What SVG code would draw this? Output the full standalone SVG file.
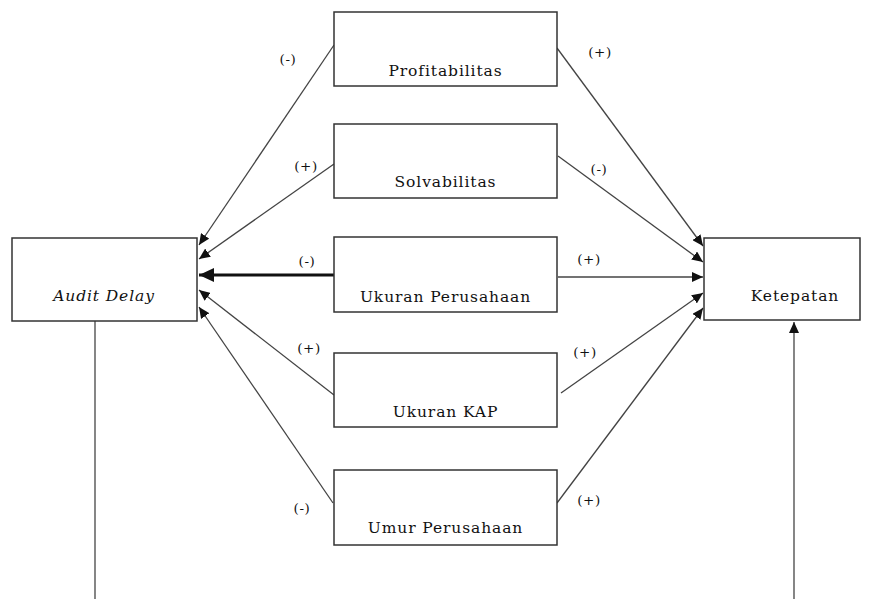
<svg xmlns="http://www.w3.org/2000/svg" width="875" height="599" viewBox="0 0 875 599">
<style>
.box{fill:#fff;stroke:#333;stroke-width:1.5}
.t{font-family:"DejaVu Serif","Liberation Serif",serif;font-size:15.5px;letter-spacing:0.9px;fill:#111;text-anchor:middle}
.lbl{font-family:"DejaVu Serif","Liberation Serif",serif;font-size:13.5px;letter-spacing:0.6px;fill:#111;text-anchor:middle}
.ln{stroke:#444;stroke-width:1.3;fill:none}
</style>
<defs>
<marker id="ah" markerUnits="userSpaceOnUse" markerWidth="12" markerHeight="10" refX="11" refY="5" orient="auto"><path d="M0,0 L11,5 L0,10 Z" fill="#111"/></marker>
<marker id="ahb" markerUnits="userSpaceOnUse" markerWidth="16" markerHeight="14" refX="15" refY="7" orient="auto"><path d="M0,0 L15,7 L0,14 Z" fill="#111"/></marker>
</defs>
<g id="connectors">
<line class="ln" x1="334" y1="45" x2="199" y2="245" marker-end="url(#ah)"/>
<line class="ln" x1="334" y1="164" x2="199" y2="259" marker-end="url(#ah)"/>
<line x1="334" y1="275" x2="199" y2="275" stroke="#111" stroke-width="3" marker-end="url(#ahb)"/>
<line class="ln" x1="334" y1="395" x2="199" y2="290" marker-end="url(#ah)"/>
<line class="ln" x1="333" y1="503" x2="199" y2="307" marker-end="url(#ah)"/>
<line class="ln" x1="557" y1="48" x2="703" y2="246" marker-end="url(#ah)"/>
<line class="ln" x1="558" y1="156" x2="703" y2="262" marker-end="url(#ah)"/>
<line class="ln" x1="558" y1="277" x2="703" y2="277" marker-end="url(#ah)"/>
<line class="ln" x1="561" y1="393" x2="703" y2="293" marker-end="url(#ah)"/>
<line class="ln" x1="557" y1="503" x2="703" y2="308" marker-end="url(#ah)"/>
<line class="ln" x1="95" y1="321" x2="95" y2="599"/>
<line class="ln" x1="794" y1="599" x2="794" y2="322" marker-end="url(#ah)"/>
<text class="lbl" x="288" y="64">(-)</text>
<text class="lbl" x="306" y="171">(+)</text>
<text class="lbl" x="307" y="266">(-)</text>
<text class="lbl" x="309" y="353">(+)</text>
<text class="lbl" x="302" y="513">(-)</text>
<text class="lbl" x="600" y="57">(+)</text>
<text class="lbl" x="599" y="174">(-)</text>
<text class="lbl" x="589" y="264">(+)</text>
<text class="lbl" x="585" y="357">(+)</text>
<text class="lbl" x="589" y="505">(+)</text>
</g>
<g id="audit-delay">
<rect class="box" x="12" y="238" width="185" height="83"/>
<text class="t" x="104" y="301" font-style="italic">Audit Delay</text>
</g>
<g id="ketepatan">
<rect class="box" x="704" y="238" width="156" height="82"/>
<text class="t" x="795" y="301">Ketepatan</text>
</g>
<g id="profitabilitas">
<rect class="box" x="334" y="12" width="223" height="74"/>
<text class="t" x="445.5" y="76">Profitabilitas</text>
</g>
<g id="solvabilitas">
<rect class="box" x="334" y="124" width="223" height="74"/>
<text class="t" x="445.5" y="187">Solvabilitas</text>
</g>
<g id="ukuran-perusahaan">
<rect class="box" x="334" y="237" width="223" height="75"/>
<text class="t" x="445.5" y="302">Ukuran Perusahaan</text>
</g>
<g id="ukuran-kap">
<rect class="box" x="334" y="353" width="223" height="74"/>
<text class="t" x="445.5" y="417">Ukuran KAP</text>
</g>
<g id="umur-perusahaan">
<rect class="box" x="334" y="470" width="223" height="75"/>
<text class="t" x="445.5" y="533">Umur Perusahaan</text>
</g>
</svg>
